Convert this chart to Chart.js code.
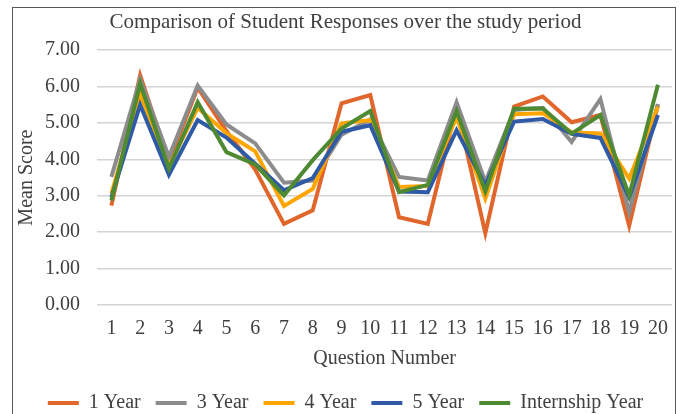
<!DOCTYPE html>
<html lang="en">
<head>
  <meta charset="UTF-8" />
  <title>Comparison of Student Responses</title>
  <script src="https://cdn.jsdelivr.net/npm/chart.js"></script>
  <style>
    html, body {
      margin: 0;
      background: #fff;
      overflow: hidden;
      width: 680px;
      height: 414px;
    }

    .frame {
      position: absolute;
      left: 12px;
      top: 7px;
      width: 662px;
      height: 500px;
      border: 1.5px solid #595959;
    }

    .chart-box {
      position: absolute;
      left: 0;
      top: 0;
      width: 680px;
      height: 426px;
    }
  </style>
</head>
<body>
  <div class="frame"></div>
  <div class="chart-box">
    <canvas id="responsesChart"></canvas>
  </div>

  <script>
    const questions = ['1', '2', '3', '4', '5', '6', '7', '8', '9', '10',
      '11', '12', '13', '14', '15', '16', '17', '18', '19', '20'];

    const oneYear    = [2.73, 6.31, 3.93, 5.97, 4.78, 3.72, 2.23, 2.60, 5.54, 5.77, 2.41, 2.23, 5.45, 1.97, 5.45, 5.73, 5.02, 5.22, 2.18, 5.50];
    const threeYear  = [3.52, 6.20, 4.07, 6.03, 4.96, 4.44, 3.36, 3.42, 4.68, 5.10, 3.52, 3.42, 5.57, 3.38, 5.36, 5.42, 4.48, 5.66, 2.55, 5.52];
    const fourYear   = [3.06, 5.78, 3.80, 5.42, 4.72, 4.22, 2.72, 3.19, 4.99, 5.08, 3.24, 3.27, 5.17, 2.92, 5.24, 5.27, 4.74, 4.71, 3.47, 5.45];
    const fiveYear   = [2.96, 5.50, 3.58, 5.08, 4.60, 3.88, 3.15, 3.49, 4.76, 4.94, 3.12, 3.10, 4.80, 3.29, 5.04, 5.11, 4.70, 4.59, 2.96, 5.22];
    const internship = [2.87, 6.08, 3.75, 5.57, 4.20, 3.86, 3.01, 3.98, 4.85, 5.33, 3.10, 3.30, 5.33, 3.12, 5.39, 5.40, 4.71, 5.22, 3.01, 6.05];

    const seriesNames = ['1 Year', '3 Year', '4 Year', '5 Year', 'Internship Year'];
    const seriesColors = ['#E0662C', '#8C8C8C', '#FFA500', '#2F5AA6', '#4E8A32'];
    const seriesData = [oneYear, threeYear, fourYear, fiveYear, internship];

    const yTicks = [0, 1, 2, 3, 4, 5, 6, 7];

    const textColor = '#404040';
    const serif = "'Liberation Serif', 'Times New Roman', serif";

    const datasets = seriesData.map((values, i) => ({
      label: seriesNames[i],
      data: values,
      borderColor: seriesColors[i],
      backgroundColor: seriesColors[i],
      borderWidth: 4,
      borderJoinStyle: 'miter',
      pointRadius: 0,
      tension: 0,
      // later series sit on top, like the original
      order: seriesData.length - i
    }));

    Chart.defaults.font.family = serif;
    Chart.defaults.color = textColor;

    const ctx = document.getElementById('responsesChart').getContext('2d');
    new Chart(ctx, {
      type: 'line',
      data: { labels: questions, datasets: datasets },
      options: {
        responsive: true,
        maintainAspectRatio: false,
        animation: false,
        layout: { padding: { left: 14, right: 3, top: 0, bottom: 3 } },
        plugins: {
          title: {
            display: true,
            text: 'Comparison of Student Responses over the study period',
            font: { size: 21, weight: 'normal' },
            color: textColor,
            padding: { top: 10, bottom: 15 }
          },
          legend: {
            position: 'bottom',
            labels: {
              sort: (a, b) => a.datasetIndex - b.datasetIndex,
              boxWidth: 31,
              boxHeight: 0,
              padding: 15,
              font: { size: 20 },
              color: textColor
            }
          },
          tooltip: { enabled: false }
        },
        scales: {
          x: {
            offset: true,
            grid: { display: false, drawTicks: false },
            border: { display: false },
            ticks: {
              autoSkip: false,
              maxRotation: 0,
              padding: 12,
              font: { size: 20 },
              color: textColor
            },
            title: {
              display: true,
              text: 'Question Number',
              font: { size: 20 },
              color: textColor,
              padding: { top: 0, bottom: 7 }
            },
            afterFit: (scale) => { scale.height = 73; }
          },
          y: {
            min: yTicks[0],
            max: yTicks[yTicks.length - 1],
            grid: { color: '#d4d4d4', lineWidth: 1.5, drawTicks: false },
            border: { display: false },
            afterBuildTicks: (scale) => {
              scale.ticks = yTicks.map(v => ({ value: v }));
            },
            ticks: {
              padding: 17,
              font: { size: 20 },
              color: textColor,
              callback: (v) => Number(v).toFixed(2)
            },
            title: {
              display: true,
              text: 'Mean Score',
              font: { size: 20 },
              color: textColor,
              padding: { top: 1, bottom: 0 }
            },
            afterFit: (scale) => { scale.width = 83; }
          }
        }
      }
    });
  </script>
</body>
</html>
